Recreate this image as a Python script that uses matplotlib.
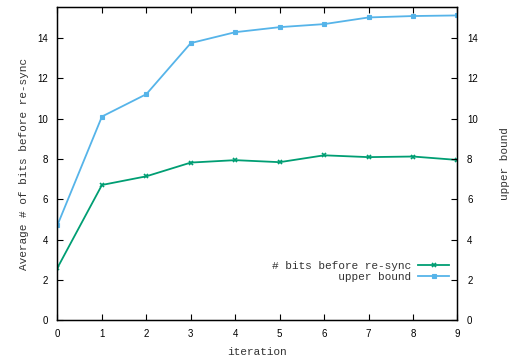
import matplotlib
matplotlib.use("Agg")
import matplotlib.pyplot as plt
import numpy as np

# data
iterations = [0, 1, 2, 3, 4, 5, 6, 7, 8, 9]
bits_before_resync = [2.61, 6.71, 7.14, 7.82, 7.94, 7.84, 8.18, 8.09, 8.12, 7.95]
upper_bound = [4.73, 10.10, 11.21, 13.74, 14.28, 14.53, 14.68, 15.01, 15.08, 15.11]
y_ticks = [0, 2, 4, 6, 8, 10, 12, 14]

mono = "Liberation Mono"
tick_font = "Liberation Sans"

fig = plt.figure(figsize=(5.18, 3.58), dpi=100)
ax = fig.add_axes([0.111, 0.105, 0.772, 0.875])

ax.plot(iterations, bits_before_resync, color="#009e73", lw=1.3,
        marker="x", ms=3.5, mew=1.2, label="# bits before re-sync")
ax.plot(iterations, upper_bound, color="#56b4e9", lw=1.3,
        marker="s", ms=3.2, mew=0.8, label="          upper bound")

ax.set_xlim(0, 9)
ax.set_ylim(0, 15.52)
ax.set_xticks(iterations)
ax.set_yticks(y_ticks)

# gnuplot look: ticks inward on all sides, right axis mirrored with labels
ax.tick_params(direction="in", length=4, width=0.8, top=True, right=True,
               labelsize=7, pad=7)
ax.tick_params(axis="x", pad=6)
for lbl in ax.get_xticklabels() + ax.get_yticklabels():
    lbl.set_fontfamily(tick_font)
ax2 = ax.twinx()
ax2.set_ylim(ax.get_ylim())
ax2.set_yticks(y_ticks)
ax2.tick_params(direction="in", length=4, width=0.8, labelsize=7, pad=7)
for lbl in ax2.get_yticklabels():
    lbl.set_fontfamily(tick_font)
for sp in ax.spines.values():
    sp.set_linewidth(1.0)

ax.set_xlabel("iteration", fontfamily=mono, fontsize=8, color="#333333", labelpad=6)
ax.set_ylabel("Average # of bits before re-sync", fontfamily=mono, fontsize=8,
              color="#333333", labelpad=6)
ax2.set_ylabel("upper bound", fontfamily=mono, fontsize=8, color="#333333",
               rotation=90, labelpad=16)

leg = ax.legend(loc="lower right", bbox_to_anchor=(1.005, 0.09), frameon=False,
                markerfirst=False, prop={"family": mono, "size": 8},
                handlelength=2.8, handletextpad=0.6, labelspacing=0.15)
for t in leg.get_texts():
    t.set_color("#333333")

fig.savefig("out.png", dpi=100)
